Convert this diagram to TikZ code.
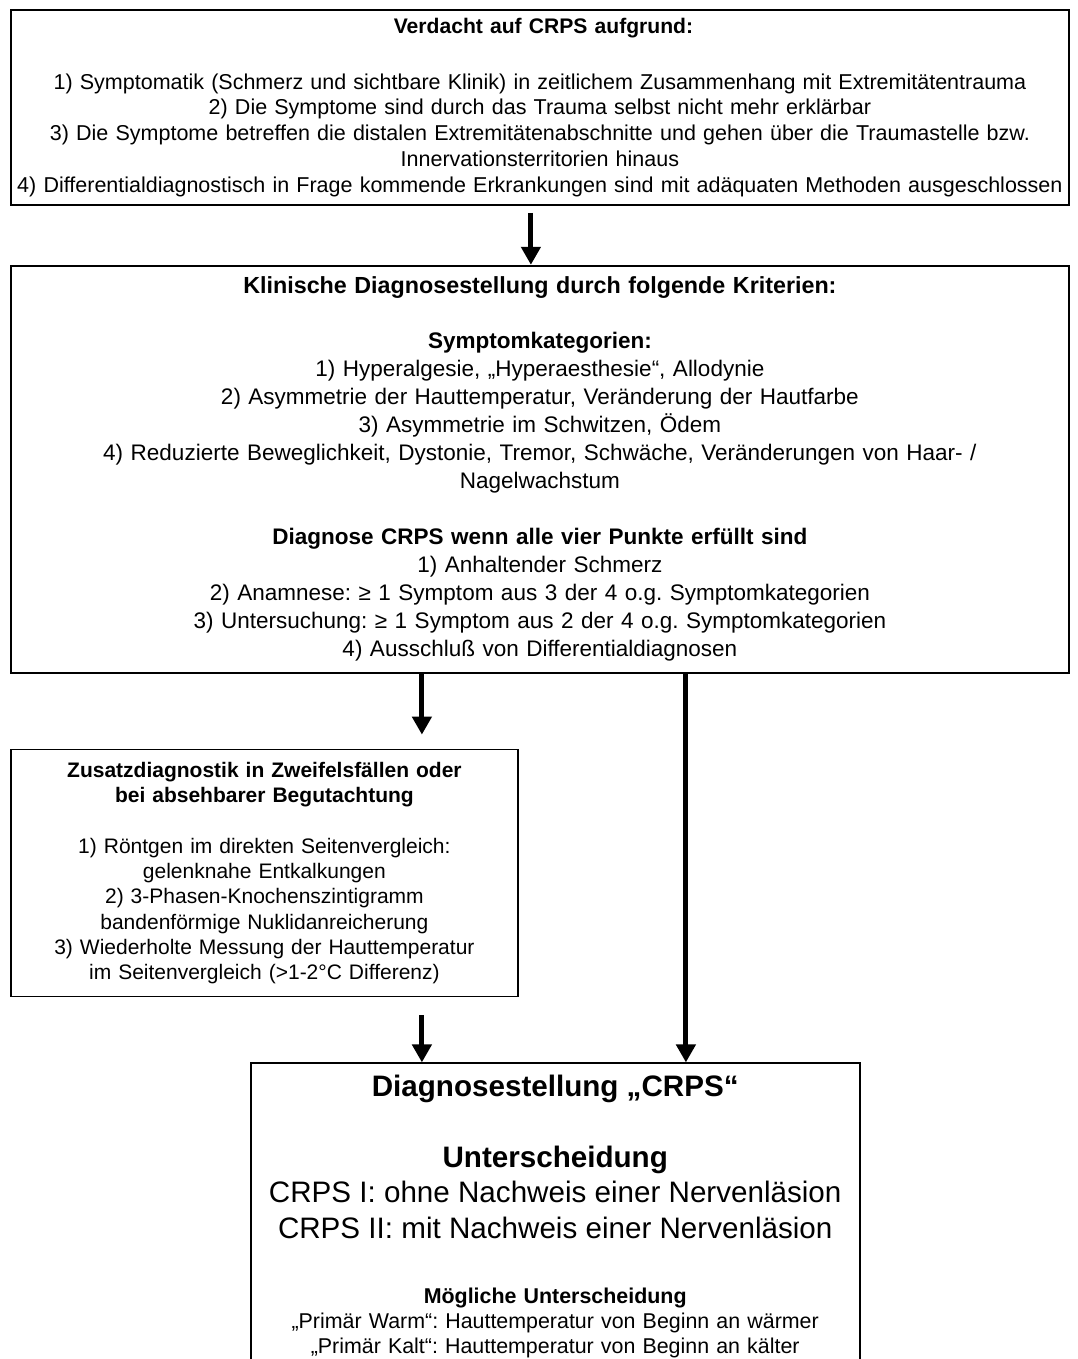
\documentclass[tikz,border=0pt]{standalone}
\usepackage{fontspec}
\setmainfont{Liberation Sans}
\usetikzlibrary{positioning,arrows.meta}
\frenchspacing

\tikzset{
	box/.style={draw, line width=1.8pt, inner sep=0pt, align=center},
	flow/.style={-{Triangle[length=18pt,width=19pt]}, line width=5pt},
}

\begin{document}
\begin{tikzpicture}[x=1pt, y=-1pt]
	\useasboundingbox (0,0) rectangle (1077,1359);

	\node[box, anchor=north west, minimum width=1058pt, minimum height=195pt, text width=1058pt,
		font=\fontsize{21.5}{25.7}\selectfont]	(verdacht)	at (10,9)	{
		\vspace{7pt}
		{\fontsize{21.1}{25.7}\selectfont\textbf{Verdacht auf CRPS aufgrund:}}\\[23pt]
		1) Symptomatik (Schmerz und sichtbare Klinik) in zeitlichem Zusammenhang mit Extremitätentrauma\\
		2) Die Symptome sind durch das Trauma selbst nicht mehr erklärbar\\
		3) Die Symptome betreffen die distalen Extremitätenabschnitte und gehen über die Traumastelle bzw.\\
		Innervationsterritorien hinaus\\
		4) Differentialdiagnostisch in Frage kommende Erkrankungen sind mit adäquaten Methoden ausgeschlossen};
	\node[box, below=59pt of verdacht, minimum width=1058pt, minimum height=407pt, text width=1058pt,
		font=\fontsize{22.5}{28}\selectfont]	(klinik)	{
		{\fontsize{23.3}{28}\selectfont\textbf{Klinische Diagnosestellung durch folgende Kriterien:}}\\[27pt]
		\textbf{Symptomkategorien:}\\
		1) Hyperalgesie, „Hyperaesthesie“, Allodynie\\
		2) Asymmetrie der Hauttemperatur, Veränderung der Hautfarbe\\
		3) Asymmetrie im Schwitzen, Ödem\\
		4) Reduzierte Beweglichkeit, Dystonie, Tremor, Schwäche, Veränderungen von Haar- /\\
		Nagelwachstum\\[28pt]
		\textbf{Diagnose CRPS wenn alle vier Punkte erfüllt sind}\\
		1) Anhaltender Schmerz\\
		2) Anamnese: ≥ 1 Symptom aus 3 der 4 o.g. Symptomkategorien\\
		3) Untersuchung: ≥ 1 Symptom aus 2 der 4 o.g. Symptomkategorien\\
		4) Ausschluß von Differentialdiagnosen};
	\node[box, below=75pt of klinik.south west, anchor=north west, minimum width=507pt, minimum height=247pt,
		text width=507pt, font=\fontsize{21}{25.3}\selectfont]	(zusatz)	{
		\textbf{Zusatzdiagnostik in Zweifelsfällen oder}\\
		\textbf{bei absehbarer Begutachtung}\\[25.3pt]
		1) Röntgen im direkten Seitenvergleich:\\
		gelenknahe Entkalkungen\\
		2) 3-Phasen-Knochenszintigramm\\
		bandenförmige Nuklidanreicherung\\
		3) Wiederholte Messung der Hauttemperatur\\
		im Seitenvergleich (>1-2°C Differenz)};
	\node[box, below=65pt of zusatz.south east, anchor=north west, xshift=-269pt, minimum width=609pt,
		minimum height=312pt, text width=609pt, font=\fontsize{21.4}{25}\selectfont]	(diag)	{
		{\fontsize{29.6}{35.5}\selectfont\spaceskip=.278em
		\textbf{Diagnosestellung „CRPS“}\\[35.5pt]
		\textbf{Unterscheidung}\\
		CRPS I: ohne Nachweis einer Nervenläsion\\
		CRPS II: mit Nachweis einer Nervenläsion\par}
		\vspace{40pt}
		{\fontsize{21.4}{25}\selectfont
		\textbf{Mögliche Unterscheidung}\\
		„Primär Warm“: Hauttemperatur von Beginn an wärmer\\
		„Primär Kalt“: Hauttemperatur von Beginn an kälter\rule[-11pt]{0pt}{11pt}\par}};

	\coordinate	(kl-l)	at ([xshift=-118pt]klinik.south);
	\coordinate	(kl-r)	at ([xshift=146pt]klinik.south);

	\draw[flow, shorten <=7pt]	([xshift=-9pt]verdacht.south) -- ([xshift=-9pt]klinik.north);
	\draw[flow, shorten >=14pt]	(kl-l) -- (kl-l |- zusatz.north);
	\draw[flow]	(kl-r) -- (kl-r |- diag.north);
	\draw[flow, shorten <=18pt]	(kl-l |- zusatz.south) -- (kl-l |- diag.north);

\end{tikzpicture}
\end{document}
